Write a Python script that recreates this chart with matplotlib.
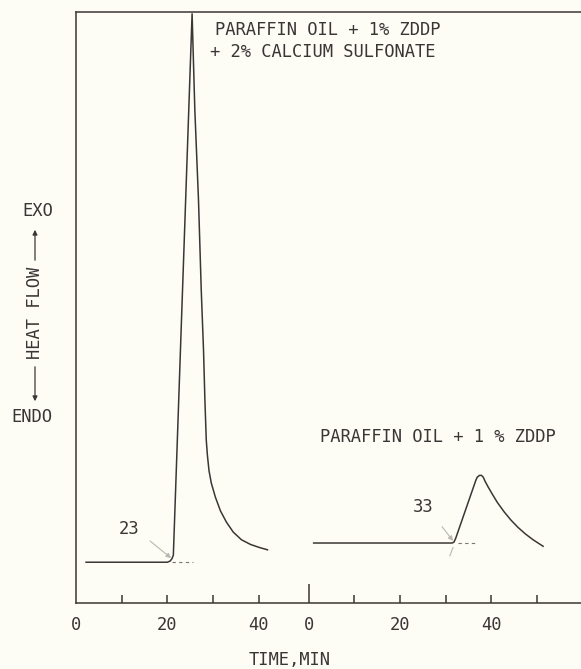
import matplotlib
matplotlib.use("Agg")
import matplotlib.pyplot as plt
import numpy as np

# --- DSC traces (time in min, heat flow in arbitrary units) ---
# Paraffin oil + 1% ZDDP + 2% calcium sulfonate
t_a = [2.2, 20.0, 20.6, 21.0, 21.3, 25.4,
       26.0, 26.8, 27.4, 27.9, 28.2, 28.5, 28.75, 29.1, 29.6, 30.5, 31.6,
       32.9, 34.4, 36.2, 38.2, 40.1, 41.9]
q_a = [6.9, 6.9, 7.1, 7.5, 8.1, 99.7,
       83.4, 68.2, 53.0, 42.8, 34.4, 27.6, 25.0, 22.4, 20.3, 17.9, 15.6,
       13.7, 12.0, 10.7, 9.9, 9.4, 9.0]

# Paraffin oil + 1% ZDDP
t_b = [1.1, 31.4, 31.8, 32.2, 36.6, 36.9, 37.4, 37.8, 38.2, 38.6, 39.3,
       40.2, 41.3, 42.8, 44.3, 45.8, 47.4, 49.1, 51.3]
q_b = [10.15, 10.15, 10.3, 11.0, 20.8, 21.3, 21.6, 21.6, 21.3, 20.6, 19.6,
       18.4, 17.0, 15.4, 14.0, 12.8, 11.7, 10.7, 9.6]

onset_labels = ["23", "33"]
tick_values = [0, 10, 20, 30, 40]
tick_text = ["0", "", "20", "", "40"]
tick_values_b = [0, 10, 20, 30, 40, 50]
tick_text_b = ["0", "", "20", "", "40", ""]

# second run is drawn on a shifted time origin
offset = 50.9

ink = "#3b3636"
faint = "#b8b8b0"
bg = "#fdfdf6"
font = ["DejaVu Sans Mono"]
fs = 12.3

fig = plt.figure(figsize=(5.81, 6.69), dpi=100, facecolor=bg)
ax = fig.add_axes([76 / 581, 66 / 669, 1 - 76 / 581 + 0.002, (603 - 12) / 669])
ax.set_facecolor(bg)
ax.set_xlim(0, (581 - 76) / 4.56)
ax.set_ylim(0, 100)

ax.plot(t_a, q_a, color=ink, lw=1.1, solid_joinstyle="round")
ax.plot(np.array(t_b) + offset, q_b, color=ink, lw=1.1, solid_joinstyle="round")

# extrapolated baselines
ax.plot([21.0, 25.7], [q_a[0], q_a[0]], color="#777770", lw=0.8, ls=(0, (3, 3)))
ax.plot([32.7 + offset, 37.1 + offset], [q_b[0], q_b[0]], color="#777770", lw=0.8,
        ls=(0, (3, 3)))
# tangent extension below baseline for second run
ax.plot([31.6 + offset, 30.9 + offset], [9.4, 8.0], color=faint, lw=0.8)

# onset pointers
ax.annotate("", xy=(20.8, 7.6), xytext=(16.2, 10.5),
            arrowprops=dict(arrowstyle="-|>", color=faint, lw=0.8,
                            mutation_scale=7, shrinkA=0, shrinkB=0))
ax.annotate("", xy=(31.6 + offset, 10.5), xytext=(29.2 + offset, 12.9),
            arrowprops=dict(arrowstyle="-|>", color=faint, lw=0.8,
                            mutation_scale=7, shrinkA=0, shrinkB=0))
ax.text(11.6, 12.5, onset_labels[0], ha="center", va="center", fontsize=fs,
        family=font, color=ink)
ax.text(25.0 + offset, 16.2, onset_labels[1], ha="center", va="center", fontsize=fs,
        family=font, color=ink)

# sample labels
ax.text(30.5, 97.0, "PARAFFIN OIL + 1% ZDDP", ha="left", va="center", fontsize=fs,
        family=font, color=ink)
ax.text(29.4, 93.2, "+ 2% CALCIUM SULFONATE", ha="left", va="center", fontsize=fs,
        family=font, color=ink)
ax.text(2.4 + offset, 28.1, "PARAFFIN OIL + 1 % ZDDP", ha="left", va="center",
        fontsize=fs, family=font, color=ink)

# axes frame
for side in ["left", "top", "bottom"]:
    ax.spines[side].set_color(ink)
    ax.spines[side].set_linewidth(1.1)
ax.spines["right"].set_visible(False)
ax.set_yticks([])

xt = tick_values + [v + offset for v in tick_values_b]
xl = tick_text + tick_text_b
ax.set_xticks(xt)
ax.set_xticklabels(xl, family=font, fontsize=fs, color=ink)
ax.tick_params(axis="x", direction="in", length=6, width=1.1, color=ink, pad=9.5)
ticks = ax.xaxis.get_major_ticks()
ticks[0].tick1line.set_visible(False)
ticks[5].tick1line.set_markersize(14)

fig.text(290 / 581, 1 - 660 / 669, "TIME,MIN", ha="center", va="center",
         fontsize=fs, family=font, color=ink)

# heat-flow direction labels
fig.text(38 / 581, 1 - 211 / 669, "EXO", ha="center", va="center", fontsize=fs,
         family=font, color=ink)
fig.text(32 / 581, 1 - 417 / 669, "ENDO", ha="center", va="center", fontsize=fs,
         family=font, color=ink)
fig.text(35 / 581, 1 - 313 / 669, "HEAT FLOW", ha="center", va="center",
         rotation=90, fontsize=fs, family=font, color=ink)
fig.patches.append(matplotlib.patches.FancyArrowPatch(
    (35 / 581, 1 - 263 / 669), (35 / 581, 1 - 227 / 669), transform=fig.transFigure,
    arrowstyle="-|>", mutation_scale=7, color=ink, lw=0.9))
fig.patches.append(matplotlib.patches.FancyArrowPatch(
    (35 / 581, 1 - 364 / 669), (35 / 581, 1 - 404 / 669), transform=fig.transFigure,
    arrowstyle="-|>", mutation_scale=7, color=ink, lw=0.9))

fig.savefig("out.png", dpi=100, facecolor=bg)
